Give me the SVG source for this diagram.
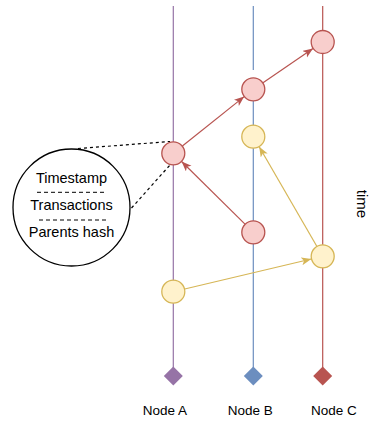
<svg xmlns="http://www.w3.org/2000/svg" width="380" height="424" viewBox="0 0 380 424">
<style>
.lbl{font-family:"Liberation Sans",Arial,sans-serif;font-size:13.5px;fill:#000;text-anchor:middle;dominant-baseline:central}
.big{font-family:"Liberation Sans",Arial,sans-serif;font-size:14.5px;fill:#000;text-anchor:middle;dominant-baseline:central}
.red{fill:#f8cecc;stroke:#b85450;stroke-width:1.3}
.yel{fill:#fff2cc;stroke:#d6b656;stroke-width:1.3}
.er{stroke:#b85450;stroke-width:1.2;fill:none;marker-end:url(#ar)}
.ey{stroke:#d6b656;stroke-width:1.2;fill:none;marker-end:url(#ay)}
.dash{stroke:#000;stroke-width:1.2;stroke-dasharray:3,3;fill:none}
.sep{stroke:#000;stroke-width:1;stroke-dasharray:4,3;fill:none}
</style>
<defs>
<marker id="ar" markerUnits="userSpaceOnUse" markerWidth="12" markerHeight="10" refX="10" refY="4" orient="auto"><path d="M0,0 L10,4 L0,8 L2.5,4 Z" fill="#b85450"/></marker>
<marker id="ay" markerUnits="userSpaceOnUse" markerWidth="12" markerHeight="10" refX="10" refY="4" orient="auto"><path d="M0,0 L10,4 L0,8 L2.5,4 Z" fill="#d6b656"/></marker>
</defs>
<g id="timelines">
<line x1="173.3" y1="6" x2="173.3" y2="376" stroke="#9673a6" stroke-width="1.2"/>
<line x1="253.3" y1="6" x2="253.3" y2="70" stroke="#6c8ebf" stroke-width="1.2"/>
<line x1="253.3" y1="101" x2="253.3" y2="376" stroke="#6c8ebf" stroke-width="1.2"/>
<line x1="322.7" y1="6" x2="322.7" y2="376" stroke="#b85450" stroke-width="1.2"/>
</g>
<g id="connectors">
<line class="er" x1="182.4" y1="146" x2="244.2" y2="96.6"/>
<line class="er" x1="263" y1="82.7" x2="313" y2="48.6"/>
<line class="er" x1="245" y1="224.1" x2="181.6" y2="161.5"/>
<line class="ey" x1="316.8" y1="246.2" x2="259.2" y2="146.8"/>
<line class="ey" x1="184.7" y1="289" x2="311.3" y2="259"/>
<line class="dash" x1="78" y1="148.5" x2="170" y2="141.5"/>
<line class="dash" x1="131.5" y1="208" x2="170" y2="165"/>
</g>
<g id="nodeA-diamond"><path d="M173.3,366.5 L182.8,376 L173.3,385.5 L163.8,376 Z" fill="#9673a6"/><text class="lbl" x="164.8" y="410">Node A</text></g>
<g id="nodeB-diamond"><path d="M253.3,366.5 L262.8,376 L253.3,385.5 L243.8,376 Z" fill="#6c8ebf"/><text class="lbl" x="250.2" y="410">Node B</text></g>
<g id="nodeC-diamond"><path d="M322.7,366.5 L332.2,376 L322.7,385.5 L313.2,376 Z" fill="#b85450"/><text class="lbl" x="333.8" y="410">Node C</text></g>
<g id="c-red-1"><circle class="red" cx="322.7" cy="42" r="11.5"/></g>
<g id="b-red-1"><circle class="red" cx="253.3" cy="89.3" r="11.5"/></g>
<g id="b-yel-1"><circle class="yel" cx="253.3" cy="136.7" r="11.5"/></g>
<g id="a-red-1"><circle class="red" cx="173.3" cy="153.3" r="11.5"/></g>
<g id="b-red-2"><circle class="red" cx="253.3" cy="232.3" r="11.5"/></g>
<g id="c-yel-1"><circle class="yel" cx="322.7" cy="256.3" r="11.5"/></g>
<g id="a-yel-1"><circle class="yel" cx="173.3" cy="291.7" r="11.5"/></g>
<g id="block-detail">
<circle cx="71.5" cy="207.5" r="58.5" fill="#fff" stroke="#000" stroke-width="1.3"/>
<text class="big" x="71.5" y="178">Timestamp</text>
<line class="sep" x1="37" y1="192.3" x2="104" y2="192.3"/>
<text class="big" x="71.5" y="205">Transactions</text>
<line class="sep" x1="39" y1="220" x2="106" y2="220"/>
<text class="big" x="71.5" y="231.7">Parents hash</text>
</g>
<g id="time-label"><text class="lbl" x="362" y="204" transform="rotate(90 362 204)" style="font-size:15px">time</text></g>
</svg>
